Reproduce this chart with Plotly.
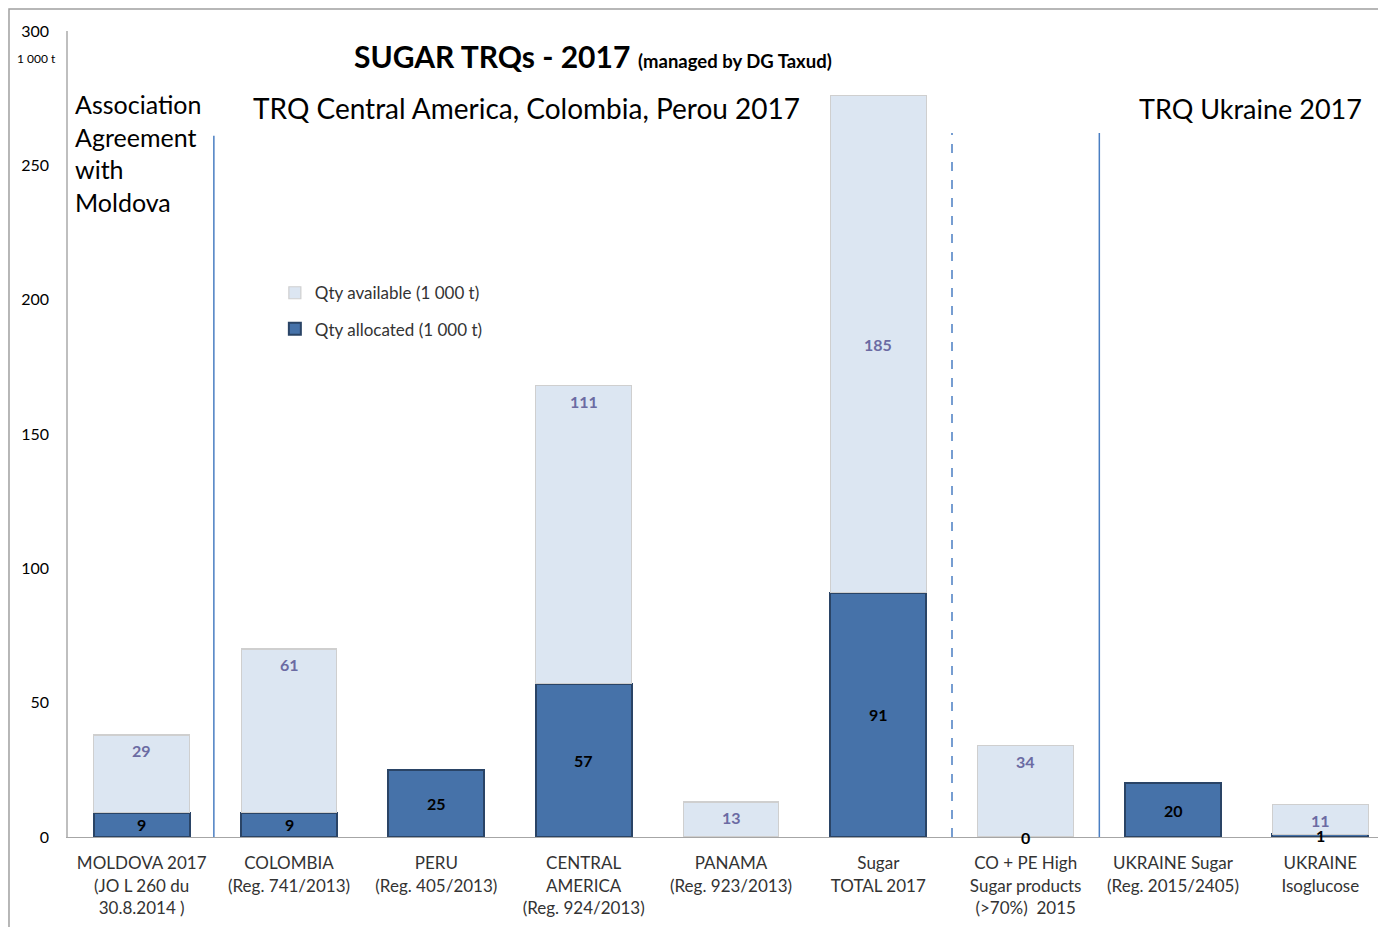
import plotly.graph_objects as go

# categories and values (1 000 t)
categories = [
    "MOLDOVA 2017<br>(JO L 260 du<br>30.8.2014 )",
    "COLOMBIA<br>(Reg. 741/2013)",
    "PERU<br>(Reg. 405/2013)",
    "CENTRAL<br>AMERICA<br>(Reg. 924/2013)",
    "PANAMA<br>(Reg. 923/2013)",
    "Sugar<br>TOTAL 2017",
    "CO + PE High<br>Sugar products<br>(>70%)  2015",
    "UKRAINE Sugar<br>(Reg. 2015/2405)",
    "UKRAINE<br>Isoglucose",
]
qty_allocated = [9, 9, 25, 57, None, 91, 0, 20, 1]
qty_available = [29, 61, None, 111, 13, 185, 34, None, 11]

# the total bar keeps its "available" label in the middle of the segment
centred_labels = {"Sugar<br>TOTAL 2017"}

FONT = "Lato, Open Sans, sans-serif"

fig = go.Figure()

fig.add_trace(go.Bar(
    x=categories, y=qty_allocated,
    name="Qty allocated (1 000 t)",
    marker=dict(color="#4672A9", line=dict(color="#2A4466", width=2)),
    width=0.65,
    legendgroup="b", legendrank=2,
))
fig.add_trace(go.Bar(
    x=categories, y=qty_available,
    name="Qty available (1 000 t)",
    marker=dict(color="#DCE6F2", line=dict(color="#CFCFCF", width=1.2)),
    width=0.65,
    legendgroup="a", legendrank=1,
))

annotations = []
# allocated labels, centred on the dark segment
for cat, v in zip(categories, qty_allocated):
    if v is None:
        continue
    annotations.append(dict(
        x=cat, y=v / 2, xref="x", yref="y", text=f"<b>{v}</b>", showarrow=False,
        font=dict(family=FONT, size=16, color="black"),
    ))
# available labels, near the top of the light segment
for cat, a, v in zip(categories, qty_allocated, qty_available):
    if v is None:
        continue
    base = a or 0
    if cat in centred_labels:
        pos = dict(y=base + v / 2)
    else:
        pos = dict(y=base + v, yanchor="top", yshift=-4)
    annotations.append(dict(
        x=cat, xref="x", yref="y", text=f"<b>{v}</b>", showarrow=False,
        font=dict(family=FONT, size=16, color="#6B6BA3"), **pos,
    ))

annotations += [
    dict(x=0.004, y=1.0, xref="paper", yref="paper", xanchor="left", yanchor="top",
         yshift=-56, align="left", showarrow=False,
         text="Association<br>Agreement<br>with<br>Moldova",
         font=dict(family=FONT, size=25, color="black")),
    dict(x=0.346, y=1.0, xref="paper", yref="paper", xanchor="center", yanchor="middle",
         yshift=-77, showarrow=False,
         text="TRQ Central America, Colombia, Perou 2017",
         font=dict(family=FONT, size=28, color="black")),
    dict(x=0.977, y=1.0, xref="paper", yref="paper", xanchor="right", yanchor="middle",
         yshift=-77, showarrow=False,
         text="TRQ Ukraine 2017",
         font=dict(family=FONT, size=27, color="black")),
    dict(x=0.396, y=1.0, xref="paper", yref="paper", xanchor="center", yanchor="middle",
         yshift=-25, showarrow=False,
         text="<b>SUGAR TRQs - 2017</b> <b><span style='font-size:18.5px'>(managed by DG Taxud)</span></b>",
         font=dict(family=FONT, size=30, color="black")),
    dict(x=-0.024, y=1.0, xref="paper", yref="paper", xanchor="center", yanchor="middle",
         yshift=-27, showarrow=False, text="1 000 t",
         font=dict(family=FONT, size=12, color="black")),
]

line_blue = "#4A7EC2"
shapes = [
    dict(type="line", xref="x", yref="y", x0=0.49, x1=0.49, y0=0, y1=261, layer="below",
         line=dict(color=line_blue, width=1.5)),
    dict(type="line", xref="x", yref="y", x0=5.5, x1=5.5, y0=0, y1=262, layer="below",
         line=dict(color=line_blue, width=1.5, dash="dash")),
    dict(type="line", xref="x", yref="y", x0=6.5, x1=6.5, y0=0, y1=262, layer="below",
         line=dict(color=line_blue, width=1.5)),
    dict(type="rect", xref="paper", yref="paper", x0=-0.0445, x1=1.05, y0=-0.2, y1=1.0273,
         line=dict(color="#A0A0A0", width=1.5), layer="below"),
]

fig.update_layout(
    barmode="stack",
    width=1386, height=927,
    margin=dict(l=60, r=0, t=23, b=98, autoexpand=False),
    paper_bgcolor="white",
    plot_bgcolor="white",
    font=dict(family=FONT, size=16, color="#333333"),
    showlegend=True,
    legend=dict(
        x=0.156, y=0.697, xanchor="left", yanchor="top",
        traceorder="grouped", tracegroupgap=11,
        font=dict(family=FONT, size=17, color="#333333"),
        bgcolor="rgba(0,0,0,0)", itemwidth=30,
    ),
    xaxis=dict(
        range=[-0.5, 8.5], showline=True, linecolor="#A6A6A6", linewidth=1,
        ticks="", ticklabelstandoff=11,
        tickfont=dict(family=FONT, size=17, color="#333333"),
        showgrid=False,
    ),
    yaxis=dict(
        range=[0, 300], tickvals=[0, 50, 100, 150, 200, 250, 300],
        showline=True, linecolor="#BFBFBF", linewidth=1.5, showgrid=False,
        zeroline=False, ticks="", ticklabelstandoff=14,
        tickfont=dict(family=FONT, size=16, color="black"),
    ),
    annotations=annotations,
    shapes=shapes,
)

fig.write_html("out.html")
